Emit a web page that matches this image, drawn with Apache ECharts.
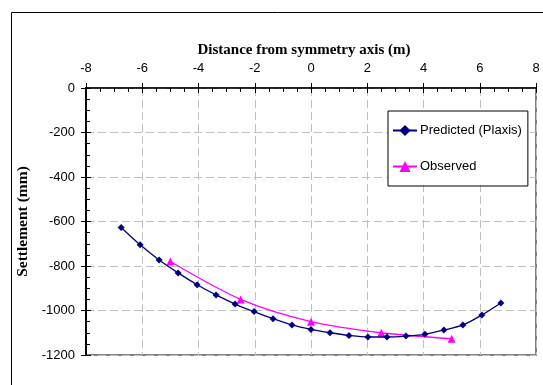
<!DOCTYPE html>
<html><head><meta charset="utf-8">
<script src="https://cdn.jsdelivr.net/npm/echarts@6/dist/echarts.min.js"></script>
<style>html,body{margin:0;padding:0;background:#fff}#c{width:543px;height:385px}</style>
</head><body><div id="c"></div>
<script>
const predictedX = [-6.75,-6.075,-5.4,-4.725,-4.05,-3.375,-2.7,-2.025,-1.35,-0.675,0,0.675,1.35,2.025,2.7,3.375,4.05,4.725,5.4,6.075,6.75];
const predictedY = [-627,-705,-773,-831,-884,-930,-971,-1005,-1037,-1065,-1085,-1100,-1112,-1119,-1119,-1115,-1107,-1088,-1065,-1020,-966];
const observedX = [-5,-2.5,0,2.5,5];
const observedY = [-780,-950,-1050,-1100,-1127];
const xTitle = 'Distance from symmetry axis (m)';
const yTitle = 'Settlement (mm)';

const chart = echarts.init(document.getElementById('c'));
const lbl = {fontFamily:'Liberation Sans, Arial', fontSize:13, color:'#000', formatter:(v)=>String(v)};
const grid = {left:86, right:7, top:88, bottom:30, show:true, borderColor:'#808080', borderWidth:2, backgroundColor:'#fff'};
chart.setOption({
  animation:false,
  title:{text:xTitle, left:299, top:38, textAlign:'center',
    textStyle:{fontFamily:'Liberation Serif, Times New Roman', fontWeight:'bold', fontSize:15, color:'#000'}},
  graphic:[{type:'rect', shape:{x:11.5, y:12.5, width:700, height:700}, style:{fill:'none', stroke:'#000', lineWidth:1}, z:-10}],
  legend:{orient:'vertical', left:388, top:111, padding:[13,6,13,4], itemGap:23, itemWidth:24, itemHeight:14,
    borderColor:'#000', borderWidth:1, backgroundColor:'#fff',
    textStyle:{fontFamily:'Liberation Sans, Arial', fontSize:13, color:'#000', padding:[0,0,0,-2]},
    data:['Predicted (Plaxis)','Observed']},
  grid:grid,
  xAxis:[
    {type:'value', position:'top', min:-8, max:8, interval:2,
     axisLine:{show:true, onZero:false, lineStyle:{color:'#000', width:1.5}},
     axisTick:{show:true, inside:false, length:5, lineStyle:{color:'#000'}},
     axisLabel:{...lbl, margin:13},
     splitLine:{show:true, lineStyle:{color:'#c0c0c0', type:[8,4], width:1}}},
    {type:'value', position:'top', min:-8, max:8, interval:2,
     axisLine:{show:false, onZero:false}, axisLabel:{show:false}, splitLine:{show:false},
     axisTick:{show:true, inside:true, length:5, lineStyle:{color:'#000'}},
     minorTick:{show:true, splitNumber:4, length:4, lineStyle:{color:'#000'}}}
  ],
  yAxis:[
    {type:'value', position:'left', min:-1200, max:0, interval:200,
     name:yTitle, nameLocation:'middle', nameGap:47,
     nameTextStyle:{fontFamily:'Liberation Serif, Times New Roman', fontWeight:'bold', fontSize:15.5, color:'#000'},
     axisLine:{show:true, onZero:false, lineStyle:{color:'#000', width:2}},
     axisTick:{show:true, inside:false, length:5, lineStyle:{color:'#000'}},
     axisLabel:{...lbl, margin:11},
     splitLine:{show:true, lineStyle:{color:'#c0c0c0', type:[8,4], width:1}}},
    {type:'value', position:'left', offset:0, min:-1200, max:0, interval:200,
     axisLine:{show:false, onZero:false}, axisLabel:{show:false}, splitLine:{show:false},
     axisTick:{show:true, inside:true, length:5, lineStyle:{color:'#000'}},
     minorTick:{show:true, splitNumber:4, length:4, lineStyle:{color:'#000'}}}
  ],
  series:[
    {name:'Predicted (Plaxis)', type:'line', smooth:0.3, symbol:'diamond', symbolSize:7,
     data:predictedX.map((x,i)=>[x,predictedY[i]]),
     lineStyle:{color:'#000080', width:1.3}, itemStyle:{color:'#000080'}, z:3},
    {name:'Observed', type:'line', smooth:0.3, symbol:'triangle', symbolSize:8,
     data:observedX.map((x,i)=>[x,observedY[i]]),
     lineStyle:{color:'#ff00ff', width:1.3}, itemStyle:{color:'#ff00ff'}, z:2}
  ]
});
</script></body></html>
